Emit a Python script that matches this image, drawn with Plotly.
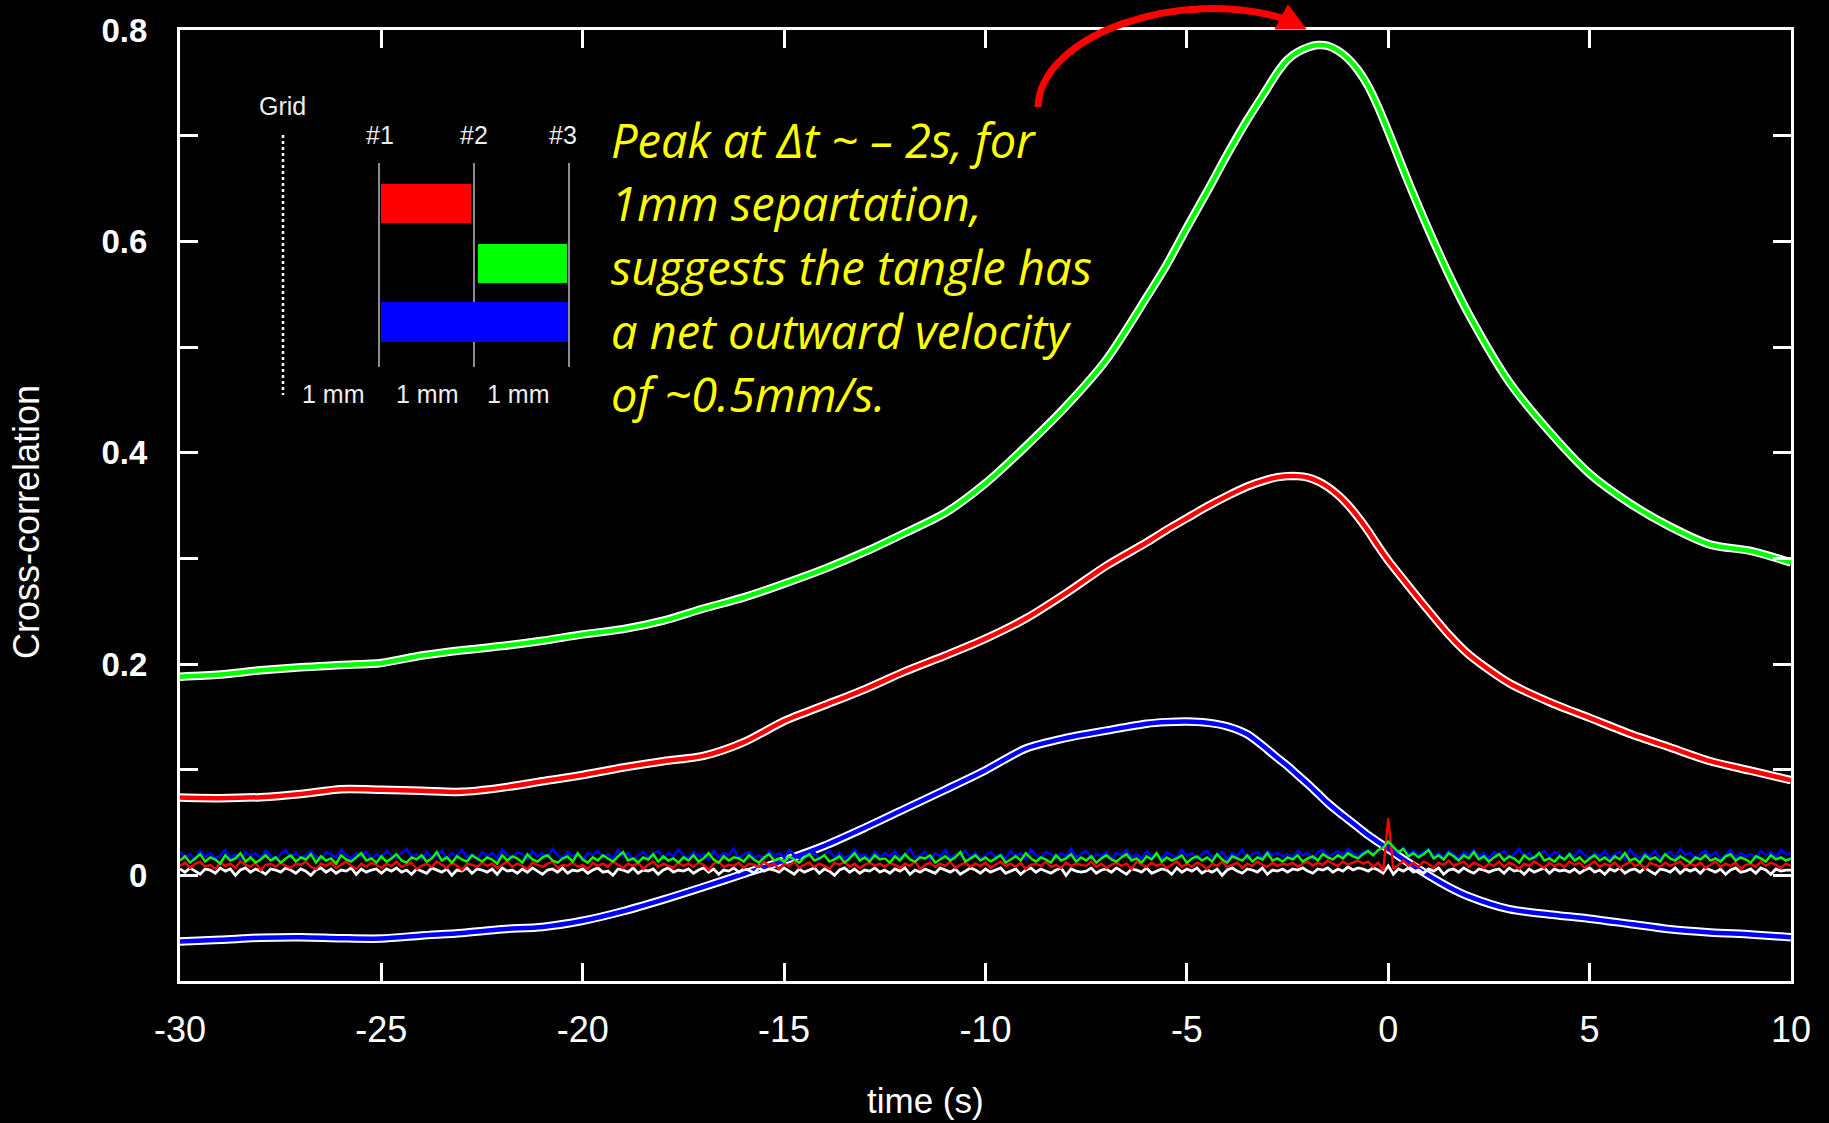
import numpy as np
import plotly.graph_objects as go

# ---- smoothed cross-correlation curves --------------------------------------
lag = [-30, -29, -28, -27, -26, -25, -24, -23, -22, -21, -20, -19, -18, -17, -16,
       -15, -14, -13, -12, -11, -10, -9, -8, -7, -6,
       -5.5, -5, -4.5, -4, -3.5,
       -3, -2.75, -2.5, -2.25, -2, -1.75, -1.5, -1.25, -1, -0.75, -0.5, -0.25, 0,
       0.5, 1, 1.5, 2,
       3, 4, 5, 6, 7, 8, 9, 10]

corr_12 = [0.0736, 0.073, 0.074, 0.077, 0.0815, 0.081, 0.080, 0.079, 0.083, 0.089,
           0.095, 0.102, 0.108, 0.113, 0.126, 0.146, 0.161, 0.176, 0.193, 0.208,
           0.224, 0.243, 0.267, 0.293, 0.315,
           0.327, 0.338, 0.349, 0.359, 0.368,
           0.3745, 0.3768, 0.3778, 0.3778, 0.3765, 0.373, 0.3675, 0.360, 0.3505,
           0.339, 0.326, 0.3115, 0.298,
           0.274, 0.2505, 0.228, 0.209,
           0.182, 0.164, 0.149, 0.134, 0.121, 0.108, 0.099, 0.090]

corr_23 = [0.188, 0.190, 0.194, 0.197, 0.199, 0.201, 0.208, 0.213, 0.217, 0.222,
           0.228, 0.233, 0.241, 0.2525, 0.263, 0.276, 0.290, 0.306, 0.324, 0.343,
           0.371, 0.406, 0.444, 0.488, 0.547,
           0.578, 0.613, 0.647, 0.682, 0.715,
           0.745, 0.760, 0.772, 0.779, 0.7835, 0.7857, 0.785, 0.7805, 0.773,
           0.762, 0.747, 0.727, 0.704,
           0.656, 0.611, 0.569, 0.531,
           0.467, 0.420, 0.380, 0.352, 0.330, 0.313, 0.307, 0.296]

corr_13 = [-0.0625, -0.061, -0.059, -0.0585, -0.0595, -0.0598, -0.057, -0.0545, -0.051,
           -0.0488, -0.043, -0.034, -0.023, -0.011, 0.0015, 0.014, 0.028, 0.045, 0.063,
           0.081, 0.0995, 0.120, 0.130, 0.137, 0.1435,
           0.145, 0.1455, 0.1445, 0.141, 0.1335,
           0.119, 0.111, 0.1035, 0.095, 0.0865, 0.0775, 0.0685, 0.0605, 0.053,
           0.0455, 0.038, 0.0315, 0.025,
           0.012, 0.000, -0.011, -0.020,
           -0.032, -0.037, -0.041, -0.046, -0.051, -0.054, -0.056, -0.0585]

# ---- unsmoothed background traces (thousandths), 0.125 s steps from -30 s ----
noise_blue = [
    22, 17, 20, 15, 23, 18, 21, 16, 19, 24, 17, 20, 14, 22, 18, 21, 16, 23, 19, 15,
    20, 24, 17, 21, 16, 19, 23, 18, 15, 22, 20, 17, 24, 19, 16, 21, 18, 22, 15, 20,
    17, 23, 19, 16, 21, 25, 18, 20, 15, 22, 17, 19, 23, 16, 21, 18, 24, 17, 20, 15,
    22, 18, 21, 16, 24, 19, 17, 22, 20, 15, 23, 18, 21, 17, 25, 19, 16, 22, 18, 20,
    15, 21, 19, 23, 17, 20, 16, 24, 18, 21, 15, 19, 22, 17, 20, 23, 16, 21, 18, 24,
    19, 16, 22, 18, 20, 15, 23, 17, 21, 19, 25, 16, 20, 22, 17, 19, 15, 23, 18, 21,
    17, 24, 19, 16, 21, 18, 22, 15, 20, 23, 17, 21, 16, 19, 24, 18, 20, 15, 22, 17,
    21, 18, 23, 16, 20, 25, 17, 19, 22, 15, 21, 18, 24, 16, 20, 19, 23, 17, 21, 15,
    19, 22, 17, 20, 16, 23, 18, 21, 15, 24, 19, 17, 22, 20, 16, 21, 18, 25, 17, 20,
    23, 16, 20, 18, 22, 15, 21, 19, 24, 17, 20, 16, 23, 18, 21, 15, 22, 19, 17, 24,
    18, 21, 16, 20, 23, 17, 19, 22, 15, 21, 18, 24, 16, 20, 22, 17, 23, 19, 21, 18,
    20, 17, 23, 19, 21, 16, 22, 24, 18, 20, 23, 19, 25, 21, 18, 22, 24, 20, 23, 27,
    29, 24, 22, 26, 20, 23, 19, 22, 25, 18, 21, 17, 23, 20, 16, 22, 19, 24, 18, 21,
    16, 22, 19, 23, 17, 20, 25, 18, 21, 16, 19, 23, 17, 22, 20, 15, 21, 18, 24, 19,
    17, 21, 18, 23, 16, 20, 22, 15, 24, 19, 17, 21, 18, 23, 16, 20, 22, 17, 25, 19,
    21, 16, 20, 23, 18, 22, 15, 19, 24, 17, 21, 18, 20, 16, 23, 19, 22, 17, 24, 20,
    21]
noise_green = [
    14, 18, 12, 16, 20, 13, 17, 15, 11, 19, 14, 16, 21, 13, 17, 12, 15, 19, 14, 17,
    12, 16, 19, 13, 17, 15, 20, 12, 18, 14, 16, 11, 19, 15, 13, 17, 21, 14, 16, 12,
    18, 13, 16, 20, 14, 12, 17, 15, 19, 13, 16, 22, 14, 17, 12, 18, 15, 13, 19, 16,
    13, 17, 15, 11, 19, 14, 18, 16, 12, 20, 15, 13, 17, 19, 14, 12, 16, 18, 13, 21,
    15, 12, 17, 14, 19, 16, 13, 18, 22, 14, 16, 12, 17, 15, 20, 13, 18, 14, 16, 12,
    17, 14, 19, 13, 16, 21, 15, 12, 18, 14, 17, 16, 13, 19, 15, 12, 17, 20, 14, 16,
    13, 18, 15, 12, 17, 20, 14, 16, 19, 13, 15, 18, 12, 16, 21, 14, 17, 13, 19, 15,
    16, 12, 18, 14, 20, 15, 13, 17, 16, 19, 12, 15, 18, 14, 17, 22, 13, 16, 19, 14,
    17, 13, 16, 19, 12, 15, 18, 14, 21, 16, 13, 17, 15, 12, 19, 14, 16, 20, 13, 17,
    14, 18, 12, 16, 19, 15, 13, 17, 20, 14, 16, 12, 18, 15, 21, 13, 17, 14, 16, 19,
    12, 16, 18, 14, 17, 13, 20, 15, 12, 18, 16, 14, 19, 13, 17, 15, 21, 14, 16, 13,
    17, 15, 19, 13, 16, 18, 14, 20, 17, 15, 19, 16, 21, 18, 16, 20, 23, 19, 24, 26,
    32, 27, 22, 25, 18, 21, 17, 20, 24, 16, 19, 15, 21, 18, 14, 19, 16, 22, 15, 18,
    13, 17, 20, 14, 18, 16, 12, 19, 15, 17, 21, 14, 16, 13, 18, 15, 20, 14, 17, 12,
    16, 19, 14, 17, 13, 18, 15, 21, 14, 16, 12, 19, 15, 17, 13, 20, 16, 14, 18, 15,
    12, 17, 15, 19, 14, 16, 13, 18, 20, 14, 17, 15, 12, 18, 16, 13, 19, 15, 17, 14,
    16]
noise_red = [
    9, 12, 7, 11, 13, 8, 10, 6, 12, 9, 11, 7, 13, 10, 8, 12, 5, 10, 11, 8,
    12, 9, 7, 11, 10, 13, 8, 6, 11, 9, 12, 7, 10, 13, 9, 6, 11, 8, 12, 10,
    7, 11, 9, 13, 8, 10, 12, 6, 9, 11, 8, 13, 10, 7, 12, 9, 5, 11, 10, 8,
    12, 9, 11, 7, 10, 13, 8, 11, 9, 6, 12, 10, 8, 11, 13, 7, 10, 9, 12, 8,
    10, 6, 12, 9, 11, 8, 13, 10, 7, 11, 9, 12, 6, 10, 13, 8, 11, 9, 7, 12,
    9, 11, 8, 12, 10, 5, 11, 13, 8, 10, 9, 12, 7, 11, 10, 8, 13, 9, 11, 6,
    11, 9, 13, 7, 10, 12, 8, 11, 9, 6, 12, 10, 13, 8, 11, 7, 10, 12, 9, 11,
    8, 12, 10, 7, 11, 9, 13, 6, 10, 12, 8, 11, 9, 13, 7, 10, 12, 8, 11, 9,
    12, 7, 10, 13, 9, 11, 8, 12, 6, 10, 11, 9, 13, 8, 10, 7, 12, 9, 11, 10,
    9, 13, 8, 11, 7, 10, 12, 9, 11, 6, 13, 10, 8, 12, 9, 11, 7, 10, 13, 8,
    11, 8, 12, 10, 6, 11, 9, 13, 8, 10, 12, 7, 11, 9, 13, 10, 8, 12, 9, 11,
    10, 12, 8, 11, 13, 9, 12, 10, 14, 11, 9, 13, 10, 12, 14, 11, 13, 8, 12, 4,
    54, 6, 10, 14, 9, 12, 8, 13, 11, 7, 12, 10, 14, 9, 11, 13, 8, 12, 10, 7,
    11, 9, 13, 8, 12, 10, 6, 11, 9, 13, 10, 7, 12, 9, 11, 8, 13, 10, 12, 7,
    10, 13, 8, 11, 9, 12, 7, 10, 13, 9, 11, 6, 12, 10, 8, 12, 9, 11, 13, 8,
    11, 9, 12, 7, 10, 13, 8, 11, 9, 12, 6, 10, 11, 8, 13, 9, 12, 10, 7, 11,
    9]
noise_white = [
    6, 3, 7, 4, 1, 6, 5, 2, 7, 4, 6, 0, 5, 7, 3, 6, 4, 1, 6, 5,
    3, 7, 5, 2, 6, 4, 0, 5, 7, 3, 6, 2, 5, 4, 7, 1, 6, 3, 5, 6,
    2, 6, 4, 7, 3, 5, 1, 6, 4, 2, 7, 5, 3, 6, 0, 5, 4, 7, 2, 6,
    5, 3, 6, 1, 7, 4, 5, 2, 6, 3, 7, 4, 1, 5, 6, 3, 7, 2, 5, 4,
    6, 2, 5, 7, 3, 4, 0, 6, 5, 3, 7, 2, 5, 4, 6, 1, 5, 7, 3, 5,
    4, 6, 2, 5, 7, 3, 6, 1, 5, 4, 7, 3, 6, 5, 2, 7, 4, 6, 5, 3,
    7, 4, 1, 6, 3, 5, 7, 2, 6, 4, 0, 5, 7, 3, 6, 2, 5, 4, 7, 3,
    5, 2, 6, 4, 7, 1, 5, 3, 6, 4, 2, 7, 5, 3, 6, 1, 4, 7, 5, 2,
    6, 3, 5, 7, 2, 4, 6, 1, 5, 7, 3, 6, 4, 2, 5, 7, 0, 6, 4, 3,
    4, 7, 2, 5, 6, 3, 7, 4, 1, 6, 5, 3, 7, 2, 4, 6, 5, 1, 7, 3,
    6, 4, 7, 2, 5, 3, 6, 0, 5, 7, 4, 2, 6, 5, 3, 7, 1, 5, 4, 6,
    3, 6, 5, 7, 4, 2, 6, 5, 7, 3, 6, 4, 8, 5, 7, 6, 4, 7, 5, 2,
    9, 1, 6, 4, 7, 3, 5, 2, 6, 4, 7, 1, 5, 6, 3, 7, 4, 2, 6, 5,
    3, 5, 6, 2, 7, 4, 5, 1, 6, 3, 5, 7, 2, 6, 4, 5, 3, 6, 2, 5,
    7, 3, 5, 1, 6, 4, 7, 2, 5, 6, 3, 7, 4, 1, 6, 5, 3, 7, 2, 6,
    4, 6, 2, 7, 5, 3, 6, 1, 5, 7, 3, 4, 6, 2, 7, 5, 1, 6, 4, 5,
    5]

x_ticks = [-30, -25, -20, -15, -10, -5, 0, 5, 10]
x_labels = ["-30", "-25", "-20", "-15", "-10", "-5", "0", "5", "10"]
y_ticks = [0, 0.1, 0.2, 0.3, 0.4, 0.5, 0.6, 0.7, 0.8]
y_labels = ["0", "", "0.2", "", "0.4", "", "0.6", "", "0.8"]

# ---- page geometry -----------------------------------------------------------
W, H = 1829, 1123
ML, MR, MT, MB = 180, 38, 30, 142


def px(X):
    return (X - ML) / (W - ML - MR)


def py(Y):
    return (H - MB - Y) / (H - MT - MB)


SANS = "Liberation Sans, Arial, Helvetica, sans-serif"

fig = go.Figure()

for vals, col in [(corr_13, "#0000ff"), (corr_12, "#ff0000"), (corr_23, "#00ff00")]:
    fig.add_trace(go.Scatter(x=lag, y=vals, mode="lines",
                             line=dict(color="white", width=8.5, shape="spline", smoothing=0.8),
                             hoverinfo="skip"))
    fig.add_trace(go.Scatter(x=lag, y=vals, mode="lines",
                             line=dict(color=col, width=4.5, shape="spline", smoothing=0.8)))

for vals, col, w in [(noise_white, "#ffffff", 2.8), (noise_blue, "#0000ff", 2.6),
                     (noise_red, "#ff0000", 2.4), (noise_green, "#00ff00", 2.4)]:
    t = np.linspace(-30, 10, len(vals))
    fig.add_trace(go.Scatter(x=t, y=np.array(vals) / 1000.0, mode="lines",
                             line=dict(color=col, width=w)))

axis_common = dict(showline=True, linecolor="white", linewidth=3, mirror="ticks",
                   ticks="inside", ticklen=18, tickwidth=3, tickcolor="white",
                   showgrid=False, zeroline=False)

fig.update_xaxes(range=[-30, 10], tickvals=x_ticks, ticktext=x_labels,
                 tickfont=dict(family=SANS, size=36, color="white"),
                 ticklabelstandoff=15, **axis_common)
fig.update_yaxes(range=[-0.1, 0.8], tickvals=y_ticks, ticktext=y_labels,
                 tickfont=dict(family=SANS, size=33, color="white", weight="bold"),
                 ticklabelstandoff=23, **axis_common)

annotations = [
    dict(x=px(925), y=py(1100), text="time (s)", textangle=0,
         font=dict(family=SANS, size=35, color="white")),
    dict(x=px(26), y=py(522), text="Cross-correlation", textangle=-90,
         font=dict(family=SANS, size=36, color="white")),
]

# probe separation diagram
inset_font = dict(family=SANS, size=25, color="#eeeeee")
for X, Y, txt in [(282, 106, "Grid"), (380, 135, "#1"), (474, 135, "#2"), (563, 135, "#3"),
                  (333, 394, "1 mm"), (427, 394, "1 mm"), (518, 394, "1 mm")]:
    annotations.append(dict(x=px(X), y=py(Y), text=txt, font=inset_font))

# explanatory note
note_lines = ["Peak at <i>Δ</i>t ~ – 2s, for", "1mm separtation,",
              "suggests the tangle has", "a net outward velocity", "of ~0.5mm/s."]
for i, line in enumerate(note_lines):
    annotations.append(dict(x=px(609), y=py(140 + 63.5 * i), text=line, xanchor="left",
                            font=dict(family="Open Sans, Noto Sans, sans-serif", size=47,
                                      color="#ffff00", style="italic")))

for a in annotations:
    a.setdefault("xanchor", "center")
    a.update(xref="paper", yref="paper", showarrow=False, yanchor="middle")

shapes = [
    dict(type="line", x0=px(283), x1=px(283), y0=py(135), y1=py(395),
         line=dict(color="white", width=2.5, dash="dot")),
]
for X in (379, 474, 569):
    shapes.append(dict(type="line", x0=px(X), x1=px(X), y0=py(163), y1=py(367),
                       line=dict(color="#bbbbbb", width=1.5)))
for (x0, y0, x1, y1), col in [((381, 184, 471, 223), "#ff0000"),
                              ((478, 244, 567, 283), "#00ff00"),
                              ((381, 302, 568, 342), "#0000ff")]:
    shapes.append(dict(type="rect", x0=px(x0), x1=px(x1), y0=py(y1), y1=py(y0),
                       fillcolor=col, line=dict(width=0)))

# curved pointer towards the peak
shapes.append(dict(type="path",
                   path=f"M {px(1038)},{py(107)} C {px(1040)},{py(35)} {px(1180)},{py(-14)} {px(1285)},{py(19)}",
                   line=dict(color="#ff0000", width=7)))
shapes.append(dict(type="path",
                   path=f"M {px(1275)},{py(29)} L {px(1288)},{py(5)} L {px(1306)},{py(29)} Z",
                   fillcolor="#ff0000", line=dict(color="#ff0000", width=1)))
for s in shapes:
    s.update(xref="paper", yref="paper", layer="above")

fig.update_layout(width=W, height=H, margin=dict(l=ML, r=MR, t=MT, b=MB),
                  paper_bgcolor="black", plot_bgcolor="black", showlegend=False,
                  annotations=annotations, shapes=shapes)

fig.write_html("out.html")
